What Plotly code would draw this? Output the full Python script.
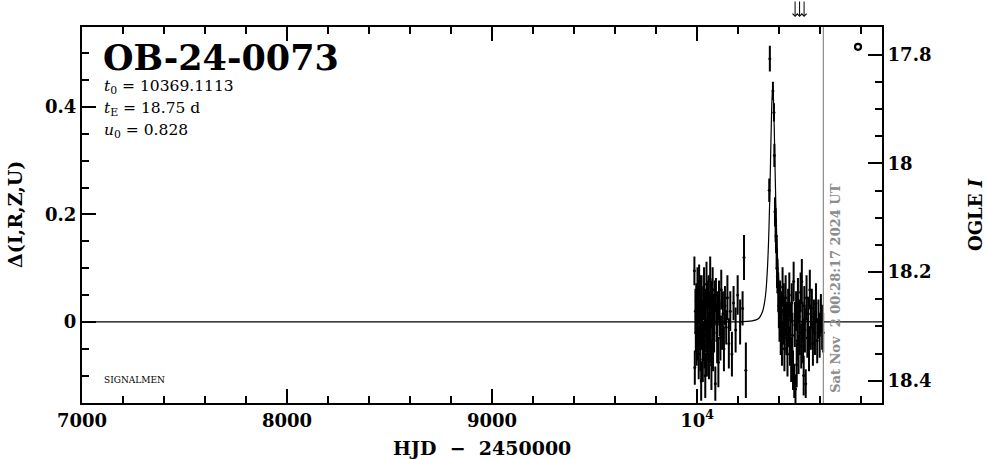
import plotly.graph_objects as go

# ---------------- data ----------------
# observations: HJD-2450000, delta flux, error
pre_hjd = [9987, 9989, 9992, 9994, 9996, 9998, 10000, 10002, 10004, 10006, 10008, 10010,
           10012, 10014, 10016, 10018, 10020, 10022, 10024, 10026, 10028, 10030, 10032,
           10034, 10036, 10038, 10040, 10042, 10044, 10046, 10048, 10050, 10052, 10054,
           10056, 10058, 10060, 10062, 10064, 10066, 10068, 10070, 10072, 10074, 10076,
           10078, 10080, 10083, 10086, 10089, 10092, 10095, 10098, 10101, 10104, 10107,
           10110, 10114, 10118, 10122, 10126, 10131, 10136, 10142, 10148, 10155, 10162,
           10170, 10178, 10188, 10198, 10210, 10222, 10229, 10238]
pre_delta = [0.095, -0.085, 0.02, -0.02, 0.04, -0.04, 0.01, 0.065, -0.03, 0.03, -0.06, 0.075,
             -0.01, 0.045, -0.05, 0.02, -0.11, 0.05, -0.02, 0.0, -0.07, 0.035, -0.035,
             0.06, -0.045, 0.015, -0.1, 0.025, -0.025, 0.07, -0.055, 0.005, 0.04, -0.03,
             0.055, -0.065, 0.015, -0.015, 0.08, -0.04, 0.03, -0.08, 0.045, -0.005, 0.06,
             -0.05, 0.02, -0.02, 0.035, -0.115, 0.05, 0.0, -0.035, 0.025, -0.075, 0.04,
             0.005, -0.03, 0.06, -0.02, 0.015, -0.05, 0.03, -0.01, 0.045, -0.04, 0.02,
             -0.06, 0.035, -0.015, 0.05, 0.0, 0.025, 0.12, -0.09]
pre_err = [0.025, 0.03, 0.04, 0.035, 0.03, 0.04, 0.03, 0.035, 0.04, 0.03, 0.045, 0.03,
           0.035, 0.04, 0.04, 0.03, 0.035, 0.035, 0.03, 0.04, 0.04, 0.03, 0.035,
           0.04, 0.04, 0.03, 0.04, 0.035, 0.03, 0.04, 0.045, 0.03, 0.035, 0.04,
           0.03, 0.04, 0.035, 0.03, 0.04, 0.035, 0.04, 0.045, 0.03, 0.035, 0.04,
           0.04, 0.03, 0.035, 0.04, 0.03, 0.03, 0.035, 0.04, 0.03, 0.045, 0.035,
           0.03, 0.04, 0.035, 0.03, 0.04, 0.04, 0.035, 0.03, 0.04, 0.045, 0.035,
           0.04, 0.03, 0.04, 0.035, 0.04, 0.03, 0.04, 0.05]

peak_hjd = [10352, 10355, 10370, 10375, 10377, 10380, 10383, 10385, 10388, 10390]
peak_delta = [0.245, 0.49, 0.43, 0.39, 0.31, 0.205, 0.18, 0.16, 0.13, 0.10]
peak_err = [0.02, 0.022, 0.015, 0.015, 0.02, 0.025, 0.03, 0.03, 0.03, 0.035]

post_hjd = [10392, 10396, 10399, 10402, 10405, 10408, 10411, 10414, 10417, 10420, 10423,
            10426, 10429, 10432, 10435, 10438, 10441, 10444, 10447, 10450, 10453, 10456,
            10459, 10462, 10465, 10468, 10471, 10474, 10477, 10480, 10483, 10486, 10489,
            10492, 10495, 10498, 10501, 10505, 10508, 10511, 10514, 10517, 10520, 10523,
            10526, 10530, 10534, 10538, 10542, 10546, 10550, 10555, 10560, 10565, 10570,
            10575, 10580, 10586, 10592, 10598, 10604, 10610, 10615]
post_delta = [0.085, 0.055, 0.03, 0.0, 0.045, -0.02, 0.02, -0.04, 0.065, -0.01, 0.03,
              -0.05, 0.01, 0.045, -0.03, 0.0, -0.06, 0.025, -0.015, 0.05, -0.045, 0.005,
              -0.07, 0.035, -0.025, -0.09, 0.075, -0.11, -0.005, -0.125, 0.02, -0.08, -0.035,
              0.04, -0.06, 0.01, -0.02, 0.055, -0.045, 0.075, 0.0, -0.035, -0.1, 0.03,
              -0.015, -0.115, 0.045, -0.03, 0.015, -0.05, 0.06, -0.01, 0.025, -0.04, 0.01,
              -0.02, 0.035, -0.035, 0.005, -0.025, 0.015, -0.01, -0.02]
post_err = [0.03, 0.035, 0.04, 0.035, 0.03, 0.04, 0.035, 0.04, 0.035, 0.03, 0.04,
            0.04, 0.035, 0.04, 0.03, 0.035, 0.04, 0.035, 0.03, 0.04, 0.035, 0.03,
            0.04, 0.035, 0.04, 0.035, 0.035, 0.03, 0.04, 0.025, 0.035, 0.04, 0.035,
            0.04, 0.035, 0.03, 0.04, 0.035, 0.04, 0.04, 0.035, 0.04, 0.035, 0.035,
            0.04, 0.025, 0.04, 0.035, 0.03, 0.04, 0.035, 0.04, 0.035, 0.04, 0.03,
            0.04, 0.035, 0.04, 0.035, 0.04, 0.035, 0.04, 0.035]

# model curve
model_hjd = [7000, 10200, 10269, 10299, 10319, 10329, 10334, 10339, 10344, 10349, 10354,
             10359, 10364, 10369, 10374, 10379, 10384, 10389, 10394, 10399, 10404, 10409,
             10419, 10439, 10469, 10902]
model_delta = [0.0, 0.0, 0.002, 0.006, 0.019, 0.036, 0.050, 0.072, 0.105, 0.153, 0.222,
               0.311, 0.400, 0.440, 0.400, 0.311, 0.222, 0.153, 0.105, 0.072, 0.050, 0.036,
               0.019, 0.006, 0.002, 0.0]

extra_hjd = [10785]
extra_delta = [0.512]

now_hjd = 10616
now_label = "Sat Nov \u00a02 00:28:17 2024 UT"
arrow_hjd = [10478, 10500, 10522]

title = "OB-24-0073"
params = ["<i>t</i><sub>0</sub> = 10369.1113",
          "<i>t</i><sub>E</sub> = 18.75 d",
          "<i>u</i><sub>0</sub> = 0.828"]

x_ticks = [7000, 8000, 9000, 10000]
x_ticktext = ["7000", "8000", "9000", "10<sup>4</sup>"]
y_ticks = [0, 0.2, 0.4]
y_ticktext = ["0", "0.2", "0.4"]
y2_ticks = [17.8, 18.0, 18.2, 18.4]
y2_ticktext = ["17.8", "18", "18.2", "18.4"]

X_RANGE = [7000, 10902]
Y_RANGE = [-0.151, 0.549]
Y2_RANGE = [18.441, 17.749]

# --------------- figure ---------------
SERIF = "DejaVu Serif"
fig = go.Figure()

fig.add_trace(go.Scatter(x=model_hjd, y=model_delta, mode="lines",
                         line=dict(color="black", width=1.2, shape="spline", smoothing=0.6),
                         showlegend=False, hoverinfo="skip"))

obs_hjd = pre_hjd + peak_hjd + post_hjd
obs_delta = pre_delta + peak_delta + post_delta
obs_err = pre_err + peak_err + post_err
fig.add_trace(go.Scatter(x=obs_hjd, y=obs_delta, mode="markers",
                         marker=dict(color="black", size=3),
                         error_y=dict(type="data", array=obs_err, color="black",
                                      thickness=2, width=1),
                         showlegend=False))

fig.add_trace(go.Scatter(x=extra_hjd, y=extra_delta, mode="markers",
                         marker=dict(symbol="circle-open", color="black", size=6,
                                     line=dict(width=2.2, color="black")),
                         showlegend=False))

# dummy trace for right axis
fig.add_trace(go.Scatter(x=[X_RANGE[0]], y=[Y2_RANGE[0]], yaxis="y2", mode="markers",
                         marker=dict(opacity=0), showlegend=False, hoverinfo="skip"))

fig.add_vline(x=now_hjd, line=dict(color="#8c8c8c", width=1.2))

tick_font = dict(family=SERIF, size=18, color="black", weight="bold")
axis_common = dict(showline=True, linecolor="black", linewidth=2, ticks="inside",
                   tickcolor="black", tickwidth=2, ticklen=14, showgrid=False,
                   zeroline=False, tickfont=tick_font)

fig.update_layout(
    width=986, height=459,
    margin=dict(l=82, r=104, t=27, b=56),
    paper_bgcolor="white", plot_bgcolor="white",
    xaxis=dict(range=X_RANGE, tickmode="array", tickvals=x_ticks, ticktext=x_ticktext,
               mirror="ticks",
               minor=dict(dtick=200, tick0=7000, ticks="inside", ticklen=7, tickwidth=2,
                          tickcolor="black"),
               **axis_common),
    yaxis=dict(range=Y_RANGE, tickmode="array", tickvals=y_ticks, ticktext=y_ticktext,
               minor=dict(dtick=0.05, tick0=0, ticks="inside", ticklen=7, tickwidth=2,
                          tickcolor="black"),
               **axis_common),
    yaxis2=dict(range=Y2_RANGE, overlaying="y", side="right", tickmode="array",
                tickvals=y2_ticks, ticktext=y2_ticktext,
                minor=dict(dtick=0.05, tick0=17.8, ticks="inside", ticklen=7, tickwidth=2,
                           tickcolor="black"),
                **axis_common),
)

# title and parameters
fig.add_annotation(text=title, xref="paper", yref="paper", x=0, y=1, xshift=19, yshift=-8,
                   xanchor="left", yanchor="top", showarrow=False,
                   font=dict(family=SERIF, size=35, color="black", weight="bold"))
for i, p in enumerate(params):
    fig.add_annotation(text=p, xref="paper", yref="paper", x=0, y=1, xshift=20,
                       yshift=-60 - 22 * i, xanchor="left", yanchor="middle",
                       showarrow=False, font=dict(family=SERIF, size=15.5, color="black"))

fig.add_annotation(text="SIGNALMEN", xref="paper", yref="paper", x=0, y=0, xshift=20,
                   yshift=23, xanchor="left", yanchor="middle", showarrow=False,
                   font=dict(family=SERIF, size=9, color="black"))

# axis titles
bold_title = dict(family=SERIF, size=19, color="black", weight="bold")
fig.add_annotation(text="HJD \u00a0\u2212\u00a0 2450000", xref="paper", yref="paper",
                   x=0.5, y=0, yshift=-45, xanchor="center", yanchor="middle",
                   showarrow=False, font=bold_title)
fig.add_annotation(text="\u0394(I,R,Z,U)", xref="paper", yref="paper", x=0, y=0.5,
                   xshift=-67, xanchor="center", yanchor="middle", textangle=-90,
                   showarrow=False, font=bold_title)
fig.add_annotation(text="OGLE <i>I</i>", xref="paper", yref="paper", x=1, y=0.5,
                   xshift=93, xanchor="center", yanchor="middle", textangle=-90,
                   showarrow=False, font=dict(family=SERIF, size=18, color="black",
                                              weight="bold"))

# current-time label
fig.add_annotation(text=now_label, x=now_hjd, xref="x", y=0, yref="paper",
                   xshift=2, yshift=8, xanchor="left", yanchor="bottom", textangle=-90,
                   showarrow=False,
                   font=dict(family=SERIF, size=13, color="#8c8c8c", weight="bold"))

# arrows above plot
for ah in arrow_hjd:
    fig.add_annotation(x=ah, xref="x", y=1, yref="paper", yshift=10, ax=0, ay=-17,
                       showarrow=True, arrowhead=4, arrowsize=1.0, arrowwidth=1,
                       arrowcolor="black", text="")

fig.write_html("out.html", config={"displayModeBar": False},
               post_script="document.body.style.margin='0';"
                           "document.body.style.overflow='hidden';")
